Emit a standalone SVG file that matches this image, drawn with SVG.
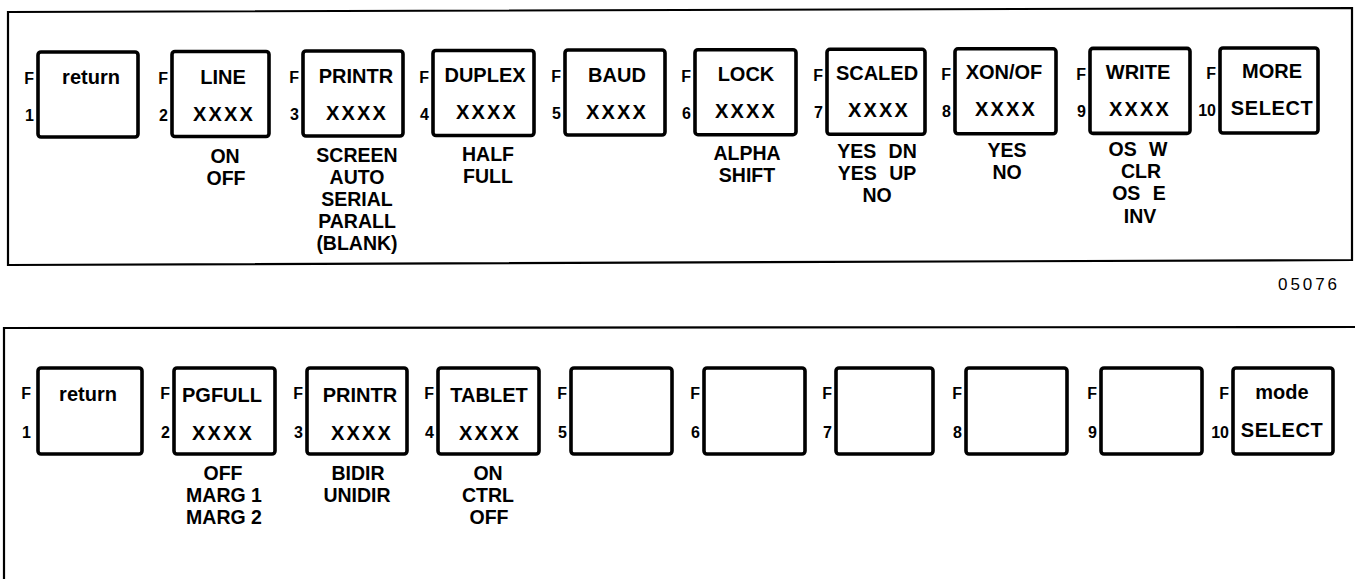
<svg xmlns="http://www.w3.org/2000/svg" width="1355" height="579" viewBox="0 0 1355 579">
<style>
.panel{fill:none;stroke:#000;stroke-width:2.2}
.key{fill:#fff;stroke:#000;stroke-width:3.6}
text{font-family:"Liberation Sans",Arial,Helvetica,sans-serif;font-weight:bold;fill:#000}
.t{font-size:20px;text-anchor:middle}
.x{letter-spacing:2.2px}
.f{font-size:16px;text-anchor:end}
.o{font-size:19.5px;text-anchor:middle}
.ws{word-spacing:7px}
.num{font-size:17px;font-weight:normal}
</style>
<rect width="1355" height="579" fill="#fff"/>
<g id="panel-top">
<path class="panel" d="M8,12 L1352,8 L1352,260 L8,265 Z"/>
</g>
<g id="panel-bottom">
<path class="panel" d="M1355,327 L4,328 L4,579"/>
</g>
<g id="connectors"/>
<!-- top row -->
<g id="top-k1"><rect class="key" x="38" y="52" width="100" height="85" rx="3"/><text class="f" x="34" y="84">F</text><text class="f" x="34" y="121">1</text><text class="t" x="91" y="84">return</text></g>
<g id="top-k2"><rect class="key" x="172" y="51.5" width="97" height="85" rx="3"/><text class="f" x="168" y="84">F</text><text class="f" x="168" y="121">2</text><text class="t" x="223" y="84">LINE</text><text class="t x" x="224" y="121">XXXX</text><text class="o" x="225" y="163">ON</text><text class="o" x="226" y="185">OFF</text></g>
<g id="top-k3"><rect class="key" x="303" y="51" width="100" height="85" rx="3"/><text class="f" x="299" y="83">F</text><text class="f" x="299" y="120">3</text><text class="t" x="356" y="83">PRINTR</text><text class="t x" x="357" y="120">XXXX</text><text class="o" x="357" y="162">SCREEN</text><text class="o" x="357" y="184">AUTO</text><text class="o" x="357" y="206">SERIAL</text><text class="o" x="357" y="228">PARALL</text><text class="o" x="357" y="250">(BLANK)</text></g>
<g id="top-k4"><rect class="key" x="433" y="50.5" width="101" height="85" rx="3"/><text class="f" x="429" y="83">F</text><text class="f" x="429" y="120">4</text><text class="t" x="485" y="82">DUPLEX</text><text class="t x" x="487" y="119">XXXX</text><text class="o" x="488" y="161">HALF</text><text class="o" x="488" y="183">FULL</text></g>
<g id="top-k5"><rect class="key" x="565" y="50" width="100" height="85" rx="3"/><text class="f" x="561" y="82">F</text><text class="f" x="561" y="119">5</text><text class="t" x="617" y="82">BAUD</text><text class="t x" x="617" y="119">XXXX</text></g>
<g id="top-k6"><rect class="key" x="695" y="49.7" width="101" height="85" rx="3"/><text class="f" x="691" y="82">F</text><text class="f" x="691" y="119">6</text><text class="t" x="746" y="81">LOCK</text><text class="t x" x="746" y="118">XXXX</text><text class="o" x="747" y="160">ALPHA</text><text class="o" x="747" y="182">SHIFT</text></g>
<g id="top-k7"><rect class="key" x="827" y="49.3" width="98" height="85" rx="3"/><text class="f" x="823" y="81">F</text><text class="f" x="823" y="118">7</text><text class="t" x="877" y="80">SCALED</text><text class="t x" x="879" y="117">XXXX</text><text class="o ws" x="877" y="158">YES DN</text><text class="o ws" x="877" y="180">YES UP</text><text class="o" x="877" y="202">NO</text></g>
<g id="top-k8"><rect class="key" x="955" y="48.8" width="101" height="85" rx="3"/><text class="f" x="951" y="80">F</text><text class="f" x="951" y="117">8</text><text class="t" x="1004" y="79">XON/OF</text><text class="t x" x="1006" y="116">XXXX</text><text class="o" x="1007" y="157">YES</text><text class="o" x="1007" y="179">NO</text></g>
<g id="top-k9"><rect class="key" x="1090" y="48.4" width="100" height="85" rx="3"/><text class="f" x="1086" y="80">F</text><text class="f" x="1086" y="117">9</text><text class="t" x="1138" y="79">WRITE</text><text class="t x" x="1140" y="116">XXXX</text><text class="o ws" x="1138" y="156">OS W</text><text class="o" x="1141" y="178">CLR</text><text class="o ws" x="1139" y="200">OS E</text><text class="o" x="1140" y="223">INV</text></g>
<g id="top-k10"><rect class="key" x="1220" y="48" width="98" height="85" rx="3"/><text class="f" x="1216" y="79">F</text><text class="f" x="1216" y="116">10</text><text class="t" x="1272" y="78">MORE</text><text class="t" x="1272" y="115" letter-spacing="0.6">SELECT</text></g>
<text id="fig-no" class="num" x="1278" y="290" textLength="59" lengthAdjust="spacing">05076</text>
<!-- bottom row -->
<g id="bot-k1"><rect class="key" x="38" y="368" width="104" height="86" rx="3"/><text class="f" x="31" y="399">F</text><text class="f" x="31" y="438">1</text><text class="t" x="88" y="401">return</text></g>
<g id="bot-k2"><rect class="key" x="174" y="368" width="101" height="86" rx="3"/><text class="f" x="170" y="399">F</text><text class="f" x="170" y="438">2</text><text class="t" x="222" y="402">PGFULL</text><text class="t x" x="223" y="440">XXXX</text><text class="o" x="223" y="480">OFF</text><text class="o" x="224" y="502">MARG 1</text><text class="o" x="224" y="524">MARG 2</text></g>
<g id="bot-k3"><rect class="key" x="307" y="368" width="100" height="86" rx="3"/><text class="f" x="303" y="399">F</text><text class="f" x="303" y="438">3</text><text class="t" x="360" y="402">PRINTR</text><text class="t x" x="362" y="440">XXXX</text><text class="o" x="358" y="480">BIDIR</text><text class="o" x="357" y="502">UNIDIR</text></g>
<g id="bot-k4"><rect class="key" x="438" y="368" width="101" height="86" rx="3"/><text class="f" x="434" y="399">F</text><text class="f" x="434" y="438">4</text><text class="t" x="489" y="402">TABLET</text><text class="t x" x="490" y="440">XXXX</text><text class="o" x="488" y="480">ON</text><text class="o" x="488" y="502">CTRL</text><text class="o" x="489" y="524">OFF</text></g>
<g id="bot-k5"><rect class="key" x="571" y="368" width="101" height="86" rx="3"/><text class="f" x="567" y="399">F</text><text class="f" x="567" y="438">5</text></g>
<g id="bot-k6"><rect class="key" x="704" y="368" width="101" height="86" rx="3"/><text class="f" x="700" y="399">F</text><text class="f" x="700" y="438">6</text></g>
<g id="bot-k7"><rect class="key" x="836" y="368" width="97" height="86" rx="3"/><text class="f" x="832" y="399">F</text><text class="f" x="832" y="438">7</text></g>
<g id="bot-k8"><rect class="key" x="966" y="368" width="101" height="86" rx="3"/><text class="f" x="962" y="399">F</text><text class="f" x="962" y="438">8</text></g>
<g id="bot-k9"><rect class="key" x="1101" y="368" width="101" height="86" rx="3"/><text class="f" x="1097" y="399">F</text><text class="f" x="1097" y="438">9</text></g>
<g id="bot-k10"><rect class="key" x="1233" y="368" width="100" height="86" rx="3"/><text class="f" x="1229" y="399">F</text><text class="f" x="1229" y="438">10</text><text class="t" x="1282" y="399">mode</text><text class="t" x="1282" y="437" letter-spacing="0.6">SELECT</text></g>
</svg>
